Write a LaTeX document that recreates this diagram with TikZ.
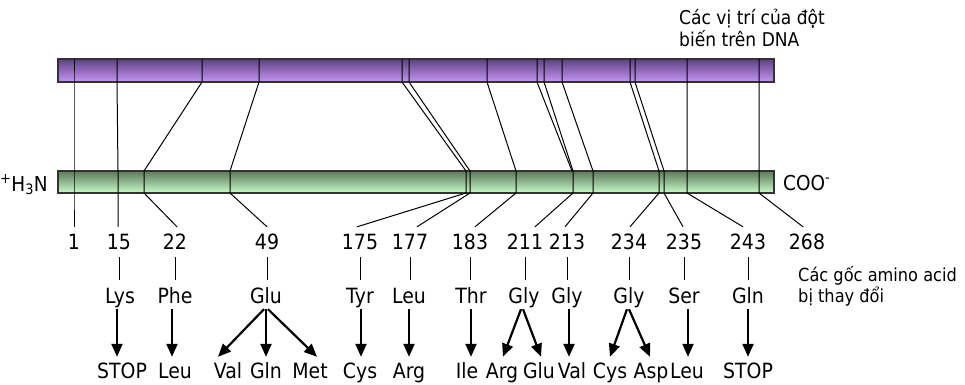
\documentclass[tikz,border=0pt]{standalone}
\usepackage{fontspec}
\setmainfont{DejaVu Sans}[FakeStretch=0.9]
\usetikzlibrary{arrows.meta,calc}
\definecolor{dnatop}{RGB}{92,66,130}
\definecolor{dnabot}{RGB}{198,150,245}
\definecolor{prottop}{RGB}{92,122,92}
\definecolor{protbot}{RGB}{200,250,200}
\begin{document}
\begin{tikzpicture}[x=1pt,y=-1pt,
  lab/.style={font=\fontsize{21}{25}\selectfont, inner sep=0pt, text height=15pt, text depth=4pt, anchor=base},
  side/.style={font=\fontsize{18}{21}\selectfont, inner sep=0pt, anchor=base west},
  term/.style={font=\fontsize{20.5}{24}\selectfont, inner sep=0pt},
  siteline/.style={line width=1pt, black},
  tickline/.style={line width=0.8pt, black},
  mut/.style={line width=2.2pt, -{Triangle[length=13pt,width=11pt]}},
  dnabar/.style={draw=black!80, line width=1.2pt, top color=dnatop, bottom color=dnabot},
  protbar/.style={draw=black!80, line width=1.2pt, top color=prottop, bottom color=protbot}]
\useasboundingbox (0,0) rectangle (965,384);

% bars
\draw[dnabar] (58,59) rectangle (774,82);
\draw[protbar] (58,171) rectangle (774,193);

% terminal labels
\node[term, anchor=base east] (nterm) at (48,191) {\textsuperscript{+}H\textsubscript{3}N};
\node[term, anchor=base west] (cterm) at (783,190) {COO\textsuperscript{-}};

% side labels
\node[side, font=\fontsize{19}{21}\selectfont] (dnalab) at (679,24) {\begin{tabular}[t]{@{}l@{}}Các vị trí của đột\\biến trên DNA\end{tabular}};
\node[side] (aalab) at (798,281) {\begin{tabular}[t]{@{}l@{}}Các gốc amino acid\\bị thay đổi\end{tabular}};

% position numbers
\foreach \n/\x in {1/74,15/119,22/175,49/267,175/360,177/410,183/470,211/525,213/567,234/629,235/684,243/748,268/807}
  \node[lab] (n\n) at (\x,249) {\n};

% original residues
\foreach \n/\x/\t in {15/120/Lys,22/175/Phe,49/266/Glu,175/360/Tyr,177/409/Leu,183/471/Thr,211/524/Gly,213/567/Gly,234/629/Gly,235/684/Ser,243/748/Gln}
  \node[lab] (r\n) at (\x,303) {\t};

% substituted residues
\foreach \n/\x/\t in {a15/122/STOP,a22/175/Leu,a49a/228/Val,a49b/266/Gln,a49c/310/Met,a175/360/Cys,a177/409/Arg,a183/467/Ile,a211a/502/Arg,a211b/539/Glu,a213/572/Val,a234a/610/Cys,a234b/651/Asp,a235/687/Leu,a243/748/STOP}
  \node[lab] (\n) at (\x,378) {\t};

% mutation sites: DNA -> protein -> number
\foreach \n/\a/\b/\dx in {1/74/74/0,15/117/118/-1,22/202/144/2,49/259/230/0,175/402/466/-3,177/409/470/7,183/487/516/5,211/544/573/10,213/562/593/-2,234/630/659/1,235/635/664/-1,243/687/687/-5,268/759/759/-4}{
  \coordinate (D\n) at (\a,59);
  \coordinate (P\n) at (\b,193);
  \draw[siteline] (D\n) -- (\a,82) -- (\b,171) -- (P\n) -- ([xshift=\dx pt,yshift=7pt]n\n.north);
}
\coordinate (Dx) at (537,59);
\coordinate (Px) at (572,171);
\draw[siteline] (Dx) -- (537,82) -- (Px);

% ticks number -> residue
\foreach \n in {15,22,49,175,177,183,211,213,234,235,243}
  \draw[tickline, shorten <=4pt, shorten >=8pt] (n\n.south) -- (n\n.south |- r\n.north);

% arrows residue -> substitution
\foreach \r/\sx/\a/\ex in {r15/-3/a15/-5, r22/-3/a22/-3, r49/-2/a49a/-10, r49/0/a49b/0, r49/2/a49c/7, r175/1/a175/1, r177/0/a177/0, r183/0/a183/4, r211/-3/a211a/1, r211/-1/a211b/2, r213/2/a213/-3, r234/-2/a234a/0, r234/0/a234b/-1, r235/4/a235/1, r243/0/a243/0}
  \draw[mut] ([xshift=\sx pt,yshift=-2pt]\r.south) -- ([xshift=\ex pt,yshift=6pt]\a.north);
\end{tikzpicture}
\end{document}
